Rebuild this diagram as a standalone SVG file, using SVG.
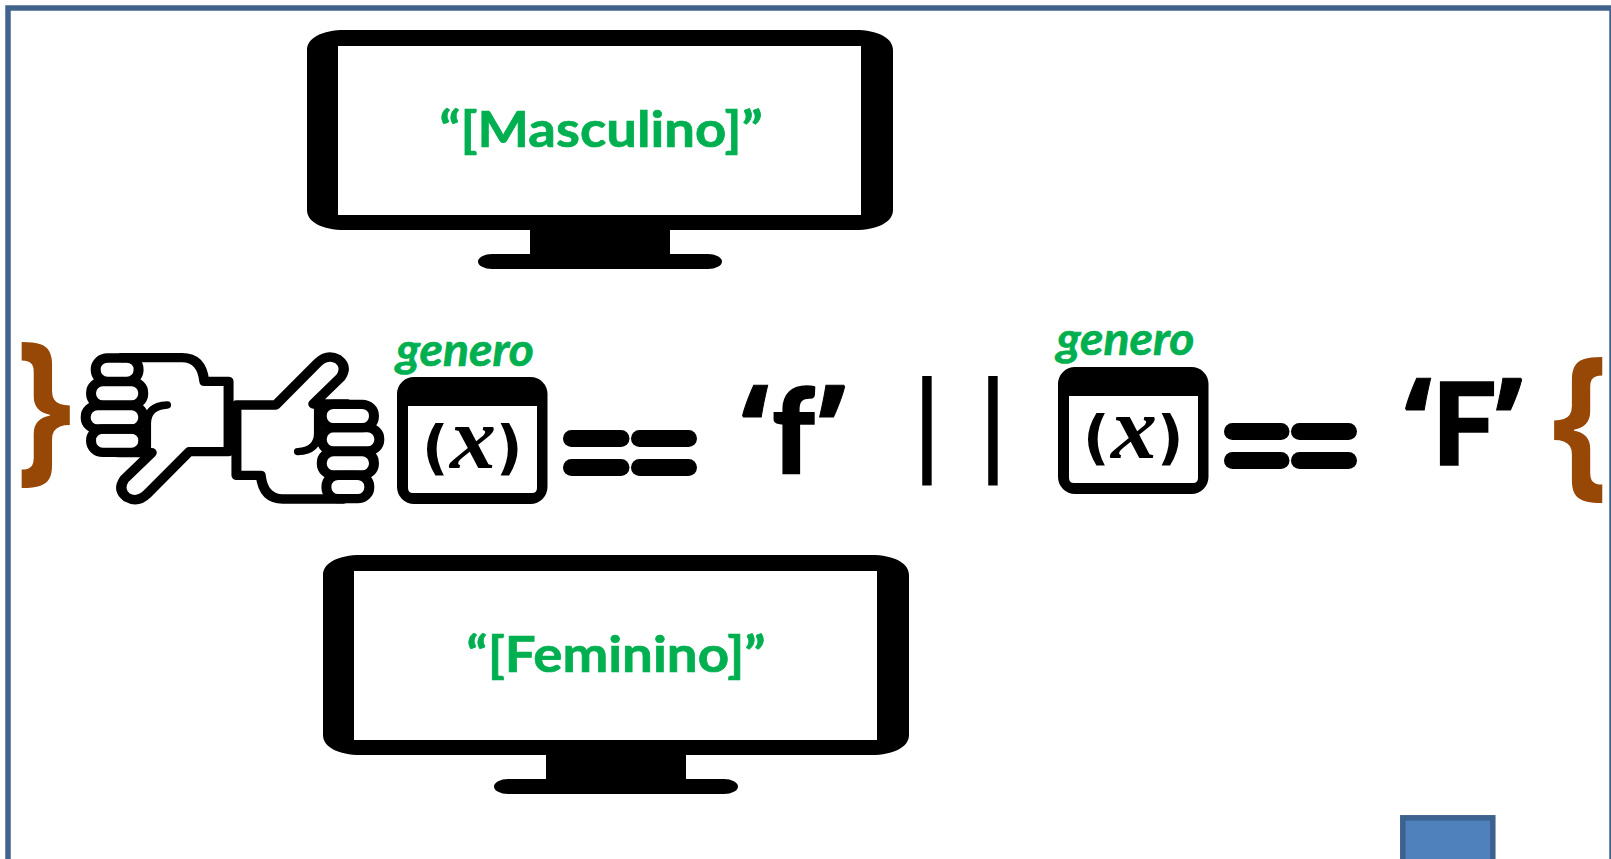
<svg xmlns="http://www.w3.org/2000/svg" xmlns:xlink="http://www.w3.org/1999/xlink" width="1611" height="859" viewBox="0 0 1611 859">
<style>
.g{fill:#00B050;stroke:#00B050;stroke-width:.7;font-family:Lato,"Open Sans",sans-serif;font-weight:700}
.t{fill:#000;stroke:#000;stroke-width:1.500;font-family:Lato,"Open Sans",sans-serif;font-weight:900;font-size:114px}
.q{fill:#000;stroke:#000;stroke-width:1;font-family:"Open Sans",sans-serif;font-weight:700;font-size:130px}
.b{fill:#974706;font-family:"Open Sans",sans-serif;font-weight:700;font-size:167px}
.ln{fill:none;stroke:#000;stroke-width:28;stroke-linecap:round;stroke-linejoin:round}
</style>
<defs>
<g id="monitor">
<path d="M345 30H855C878 30 893 38 893 50V210C893 222 878 230 855 230H670V254H708A14 7.500 0 0 1 708 269H492A14 7.500 0 0 1 492 254H530V230H345C322 230 307 222 307 210V50C307 38 322 30 345 30Z" fill="#000"/>
<rect x="338" y="46" width="523" height="169" fill="#fff"/>
</g>
<g id="window">
<rect x="397" y="377" width="150.500" height="127" rx="17" fill="#000"/>
<path d="M408 406H537V488Q537 493 532 493H413Q408 493 408 488Z" fill="#fff"/>
<text x="422" y="467.500" font-family="'DejaVu Sans',sans-serif" font-weight="700" font-size="58">(</text>
<text x="450" y="468" font-family="'Liberation Serif',serif" font-weight="700" font-style="italic" font-size="88" textLength="46" lengthAdjust="spacingAndGlyphs">x</text>
<text x="496" y="467.500" font-family="'DejaVu Sans',sans-serif" font-weight="700" font-size="58">)</text>
</g>
<g id="hand">
<path class="ln" d="M340 113H510Q565 113 572 184H640V395H530L412 522Q385 550 355 532Q328 510 348 478L425 398H330"/>
<rect class="ln" x="268" y="114" width="120" height="70" rx="33"/>
<rect class="ln" x="255" y="185" width="146" height="70" rx="33"/>
<rect class="ln" x="240" y="257" width="161" height="70" rx="33"/>
<rect class="ln" x="255" y="327" width="146" height="70" rx="33"/>
<path class="ln" d="M468 255Q412 258 412 310V385" style="stroke-width:22"/>
</g>
</defs>
<rect id="frame" x="8" y="8" width="1604" height="900" fill="#fff" stroke="#41648F" stroke-width="5.500"/>
<g id="connectors"/>
<g id="monitor-masculino">
<use href="#monitor"/>
<text class="g" x="601" y="147" font-size="50" text-anchor="middle" textLength="323" lengthAdjust="spacingAndGlyphs">“[Masculino]”</text>
</g>
<g id="monitor-feminino">
<use href="#monitor" transform="translate(16 525)"/>
<text class="g" x="616" y="672" font-size="50" text-anchor="middle" textLength="299" lengthAdjust="spacingAndGlyphs">“[Feminino]”</text>
</g>
<g id="brace-right"><text class="b" transform="translate(44 462) scale(.85 1)" text-anchor="middle">}</text></g>
<g id="thumbs">
<g transform="translate(0 320) scale(.35714 .33333)">
<use href="#hand"/>
<use href="#hand" transform="rotate(180 651 325)"/>
</g>
</g>
<g id="var-1">
<text class="g" x="396" y="366" font-size="46" font-style="italic" textLength="138" lengthAdjust="spacingAndGlyphs">genero</text>
<use href="#window"/>
</g>
<g id="eq-1">
<rect x="563" y="430" width="66.500" height="17" rx="8.500"/>
<rect x="631" y="430" width="66" height="17" rx="8.500"/>
<rect x="563" y="459" width="66.500" height="17" rx="8.500"/>
<rect x="631" y="459" width="66" height="17" rx="8.500"/>
</g>
<g id="lit-f"><text class="t" x="772" y="473" style="font-size:118px">f</text><text class="q" x="741" y="478">‘</text><text class="q" x="818" y="478">’</text></g>
<g id="or"><text x="911.800 945 977.800" y="461" font-family="'Liberation Sans',sans-serif" font-size="117">| |</text></g>
<g id="var-2">
<text class="g" x="1056.500" y="355" font-size="46" font-style="italic" textLength="138" lengthAdjust="spacingAndGlyphs">genero</text>
<use href="#window" transform="translate(661 -10)"/>
</g>
<g id="eq-2">
<rect x="1224" y="423" width="65.500" height="17" rx="8.500"/>
<rect x="1291" y="423" width="66" height="17" rx="8.500"/>
<rect x="1224" y="452" width="65.500" height="17" rx="8.500"/>
<rect x="1291" y="452" width="66" height="17" rx="8.500"/>
</g>
<g id="lit-F"><text class="t" x="1432" y="465">F</text><text class="q" x="1404" y="471">‘</text><text class="q" x="1495" y="471">’</text></g>
<g id="brace-left"><text class="b" transform="translate(1580 477) scale(.85 1)" text-anchor="middle">{</text></g>
<g id="square"><rect x="1402.800" y="817.800" width="90" height="60" fill="#4F81BD" stroke="#3E6290" stroke-width="5.500"/></g>
</svg>
